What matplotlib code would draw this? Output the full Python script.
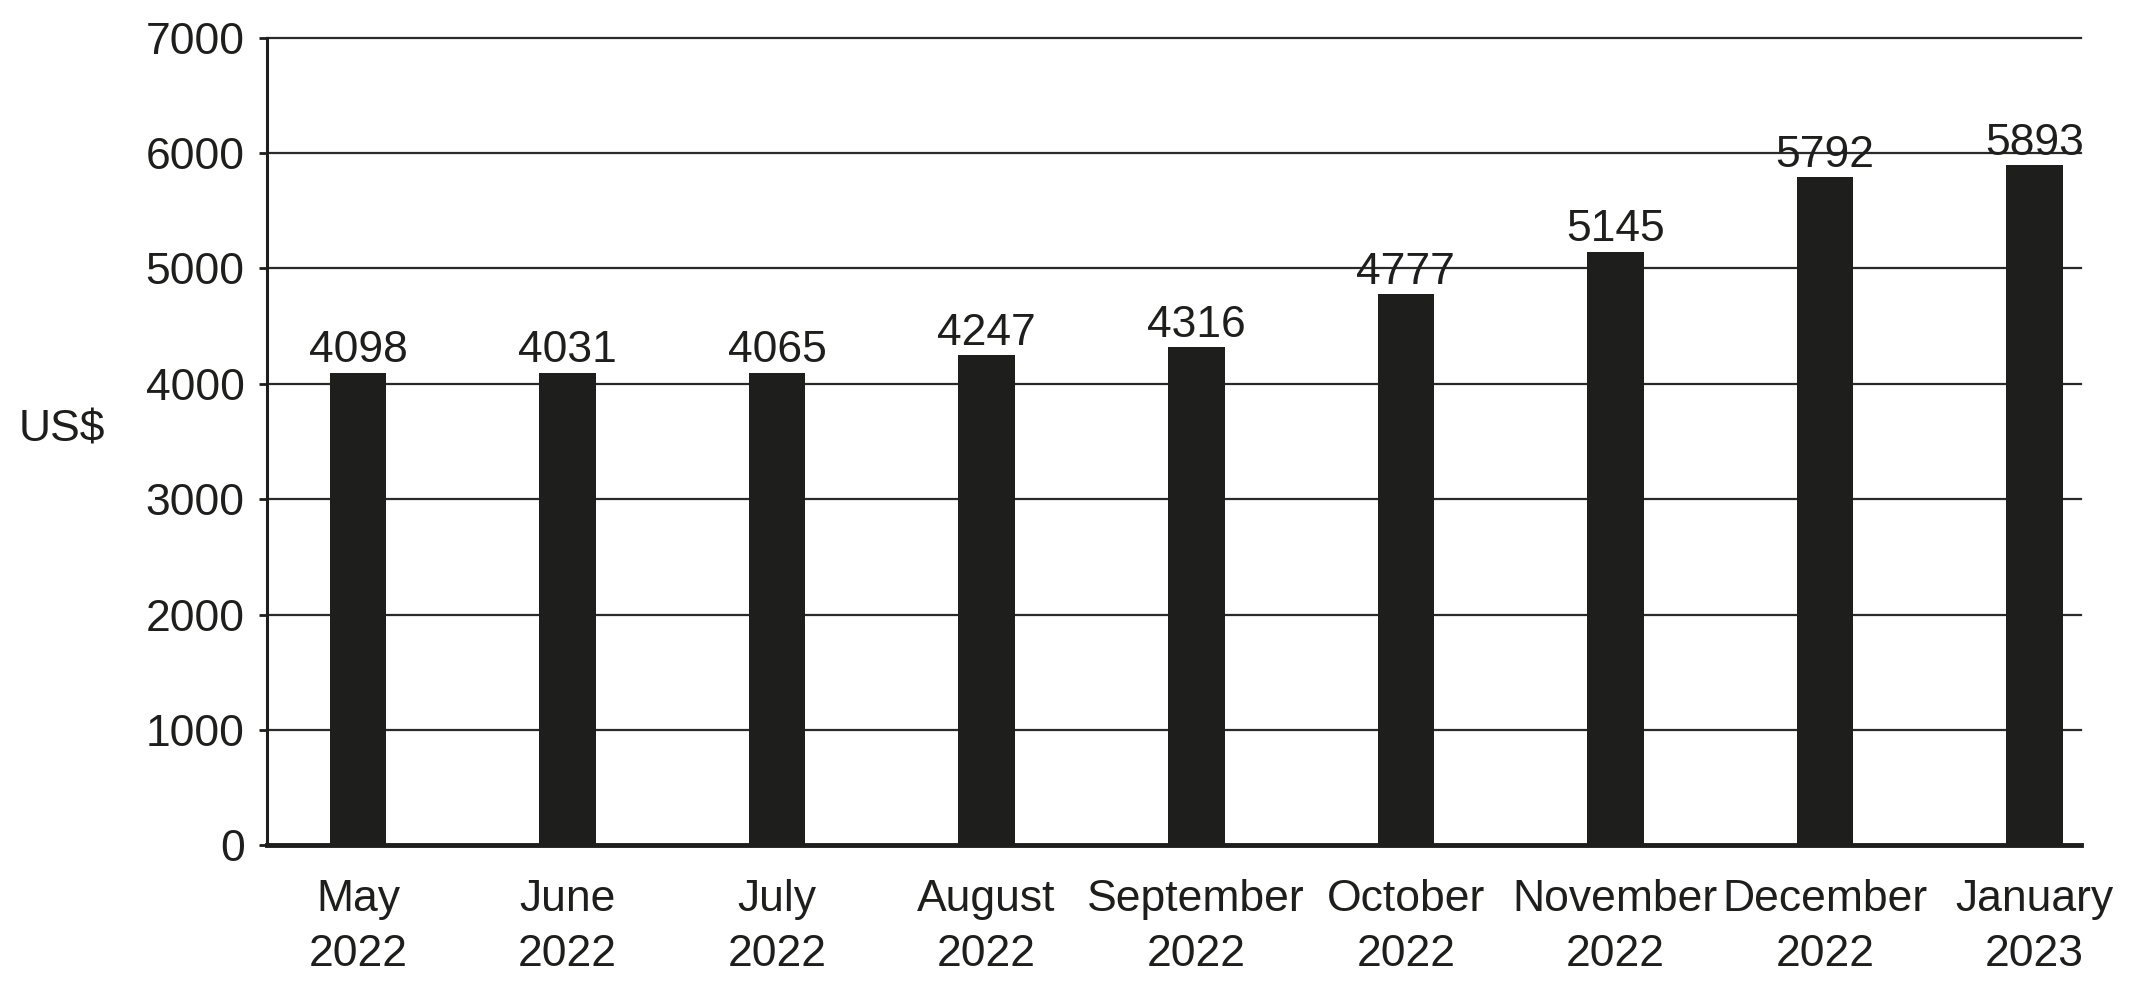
import matplotlib
matplotlib.use('Agg')
import matplotlib.pyplot as plt

plt.rcParams['font.family'] = ['Liberation Sans', 'DejaVu Sans']

# Datos
meses = ['May\n2022', 'June\n2022', 'July\n2022', 'August\n2022', 'September\n2022',
         'October\n2022', 'November\n2022', 'December\n2022', 'January\n2023']
etiquetas = [4098, 4031, 4065, 4247, 4316, 4777, 5145, 5792, 5893]   # valores escritos
alturas = [4098, 4098, 4098, 4247, 4316, 4777, 5145, 5792, 5893]     # altura dibujada de cada barra
y_ticks = [0, 1000, 2000, 3000, 4000, 5000, 6000, 7000]

color_barra = '#1e1e1c'

fig = plt.figure(figsize=(21.34, 9.9), dpi=100)
ax = fig.add_axes([0.125, 0.146, 0.85, 0.816])

x = range(len(meses))
ax.bar(x, alturas, width=0.27, color=color_barra, zorder=3)

for xi, h, lab in zip(x, alturas, etiquetas):
    ax.annotate(str(lab), (xi, h), xytext=(0, 1), textcoords='offset points',
                ha='center', va='bottom', fontsize=32, color=color_barra)

ax.set_xlim(-0.435, 8.22)
ax.set_ylim(0, 7000)
ax.set_yticks(y_ticks)
ax.set_xticks(list(x))
ax.set_xticklabels(meses, linespacing=1.45)

ax.grid(axis='y', color='#2a2a2a', linewidth=1.6, zorder=0)
ax.set_axisbelow(True)
for linea in ax.get_ygridlines():
    linea.set_clip_on(False)                 # que se vea entera la linea de 7000

for s in ['top', 'right']:
    ax.spines[s].set_visible(False)
ax.spines['left'].set_linewidth(2.2)
ax.spines['bottom'].set_linewidth(3.5)
ax.spines['left'].set_color(color_barra)
ax.spines['bottom'].set_color(color_barra)

ax.tick_params(axis='y', length=6, width=2, pad=10, labelsize=32, colors=color_barra)
ax.tick_params(axis='x', length=0, pad=24, labelsize=32, colors=color_barra)

fig.text(19 / 2134, 1 - 430 / 990, 'US$', fontsize=32, ha='left', va='center', color=color_barra)

fig.savefig('out.png', dpi=100, facecolor='white')
